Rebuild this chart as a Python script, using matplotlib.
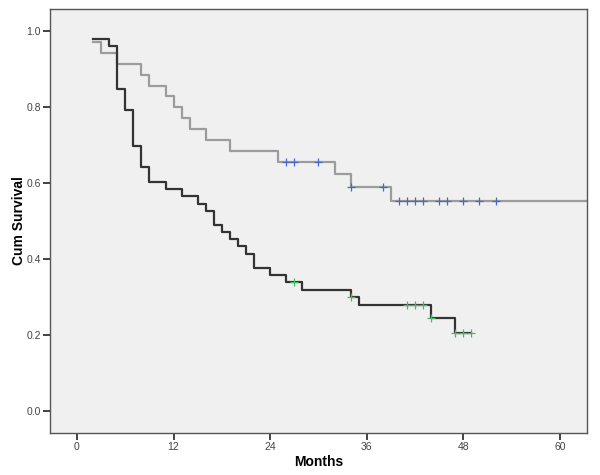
import numpy as np
import matplotlib
matplotlib.use('Agg')
import matplotlib.pyplot as plt

plt.rcParams['font.family'] = ['Liberation Sans', 'DejaVu Sans']

# 组1（浅灰）：事件时间与累计生存率
times_a = [2, 3, 5, 8, 9, 11, 12, 13, 14, 16, 19, 25, 32, 34, 39]
surv_a = [0.971, 0.943, 0.914, 0.886, 0.857, 0.829, 0.800, 0.771, 0.743,
          0.714, 0.686, 0.657, 0.624, 0.591, 0.554]
end_a = 64
censor_a = [26, 27, 30, 34, 38, 40, 41, 42, 43, 45, 46, 48, 50, 52]

# 组2（深灰）
times_b = [2, 4, 5, 6, 7, 8, 9, 11, 13, 15, 16, 17, 18, 19, 20, 21, 22,
           24, 26, 28, 34, 35, 44, 47]
surv_b = [0.981, 0.962, 0.849, 0.792, 0.698, 0.642, 0.604, 0.585, 0.566,
          0.547, 0.528, 0.491, 0.472, 0.453, 0.434, 0.415, 0.377, 0.358,
          0.340, 0.320, 0.300, 0.279, 0.246, 0.205]
end_b = 49
censor_b = [27, 34, 41, 42, 43, 44, 47, 48, 49]

xticks = [0, 12, 24, 36, 48, 60]
yticks = [0.0, 0.2, 0.4, 0.6, 0.8, 1.0]


def level_at(times, surv, t):
    idx = np.searchsorted(times, t, side='right') - 1
    return surv[idx]


fig = plt.figure(figsize=(6, 4.75), dpi=100)
ax = fig.add_axes([0.0833, 0.0884, 0.895, 0.8926])
ax.set_facecolor('#f0f0f0')

# 生存曲线（阶梯）
ax.step(times_a + [end_a], surv_a + [surv_a[-1]], where='post',
        color='#9c9c9c', linewidth=1.6, zorder=2)
ax.step(times_b + [end_b], surv_b + [surv_b[-1]], where='post',
        color='#333333', linewidth=1.6, zorder=3)

# 删失标记
ax.plot(censor_a, [level_at(times_a, surv_a, t) for t in censor_a], '+',
        color='#4a68c8', markersize=6, markeredgewidth=0.9, zorder=4)
ax.plot(censor_b, [level_at(times_b, surv_b, t) for t in censor_b], '+',
        color='#3cc05a', markersize=6, markeredgewidth=0.9, zorder=4)

ax.set_xlim(-3.35, 63.35)
ax.set_ylim(-0.057, 1.059)
ax.set_xticks(xticks)
ax.set_yticks(yticks)
ax.set_yticklabels([f'{v:.1f}' for v in yticks])
ax.tick_params(direction='out', length=5, width=1.2, color='#222222',
               labelsize=7.5, labelcolor='#444444', pad=1.5)

for s in ax.spines.values():
    s.set_color('#555555')
    s.set_linewidth(1.0)

ax.set_xlabel('Months', fontsize=10, fontweight='bold', labelpad=2)
ax.set_ylabel('Cum Survival', fontsize=10, fontweight='bold', labelpad=0)

plt.savefig('out.png', dpi=100)
